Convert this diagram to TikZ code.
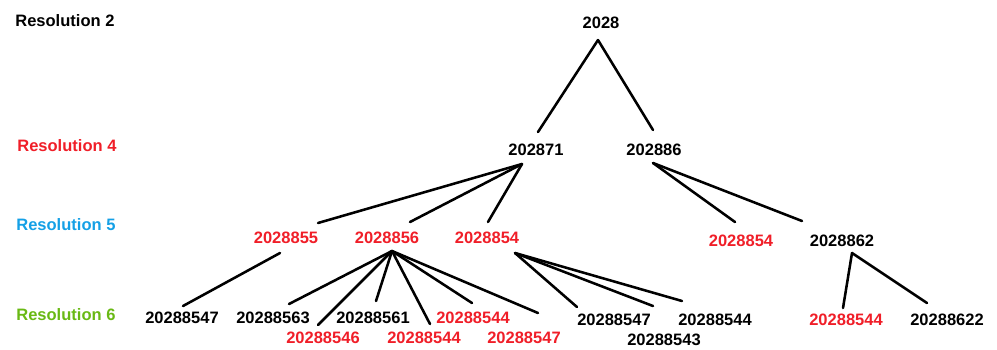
\documentclass[tikz,border=0pt]{standalone}
\usepackage{fontspec}
\setmainfont{Liberation Sans}
\usetikzlibrary{calc}
\definecolor{resred}{RGB}{240,30,40}
\definecolor{resblue}{RGB}{20,160,230}
\definecolor{resgreen}{RGB}{105,185,20}
\tikzset{
  cell/.style = {font=\bfseries\fontsize{9.4}{11}\selectfont, inner sep=0pt},
  red cell/.style = {cell, text=resred},
  level label/.style = {cell, anchor=west},
  link/.style = {line width=1.45pt, line cap=round}
}

\begin{document}
\begin{tikzpicture}[x=0.02cm, y=-0.02cm]
  \useasboundingbox (0,0) rectangle (997,349);

  % resolution levels
  \node[level label] (res2) at (15,21) {Resolution 2};
  \node[level label, text=resred] (res4) at (17,146) {Resolution 4};
  \node[level label, text=resblue] (res5) at (16,225) {Resolution 5};
  \node[level label, text=resgreen] (res6) at (16,315) {Resolution 6};

  % cells
  \node[cell] (top) at (601,23) {2028};
  \node[cell] (n71) at (536,150) {202871};
  \node[cell] (n86) at (654,150) {202886};

  \node[red cell] (n55) at (286,238) {2028855};
  \node[red cell] (n56) at (387,238) {2028856};
  \node[red cell] (n54) at (487,238) {2028854};
  \node[red cell] (n54r) at (741,241) {2028854};
  \node[cell] (n62) at (842,241) {2028862};

  \node[cell] (m47) at (182,318) {20288547};
  \node[cell] (m63) at (273,318) {20288563};
  \node[cell] (m61) at (373,318) {20288561};
  \node[red cell] (m44a) at (473,318) {20288544};
  \node[red cell] (m46) at (323,338) {20288546};
  \node[red cell] (m44b) at (424,338) {20288544};
  \node[red cell] (m47r) at (524,338) {20288547};
  \node[cell] (m47b) at (614,320) {20288547};
  \node[cell] (m43) at (664,340) {20288543};
  \node[cell] (m44c) at (715,320) {20288544};
  \node[red cell] (m44r) at (846,320) {20288544};
  \node[cell] (m22) at (947,320) {20288622};

  % links
  \foreach \c/\dx/\dy in {n71/2/-18, n86/-1/-20}
    \draw[link] ($(top)+(-3,17)$) -- ($(\c)+(\dx,\dy)$);
  \foreach \c/\dx/\dy in {n55/32/-15, n56/23/-16, n54/1/-16}
    \draw[link] ($(n71)+(-14,14)$) -- ($(\c)+(\dx,\dy)$);
  \foreach \c/\dx/\dy in {n54r/-6/-19, n62/-40/-20}
    \draw[link] ($(n86)+(-1,13)$) -- ($(\c)+(\dx,\dy)$);

  \draw[link] ($(n55)+(-6,15)$) -- ($(m47)+(1,-12)$);
  \foreach \c/\dx/\dy in {m63/16/-14, m46/-5/-13, m61/3/-17, m44b/6/-14, m44a/-1/-15, m47r/14/-25}
    \draw[link] ($(n56)+(5,13)$) -- ($(\c)+(\dx,\dy)$);
  \foreach \c/\dx/\dy in {m47b/-37/-13, m43/-11/-34, m44c/-33/-19}
    \draw[link] ($(n54)+(28,15)$) -- ($(\c)+(\dx,\dy)$);
  \foreach \c/\dx/\dy in {m44r/-3/-12, m22/-20/-17}
    \draw[link] ($(n62)+(10,12)$) -- ($(\c)+(\dx,\dy)$);

\end{tikzpicture}
\end{document}
